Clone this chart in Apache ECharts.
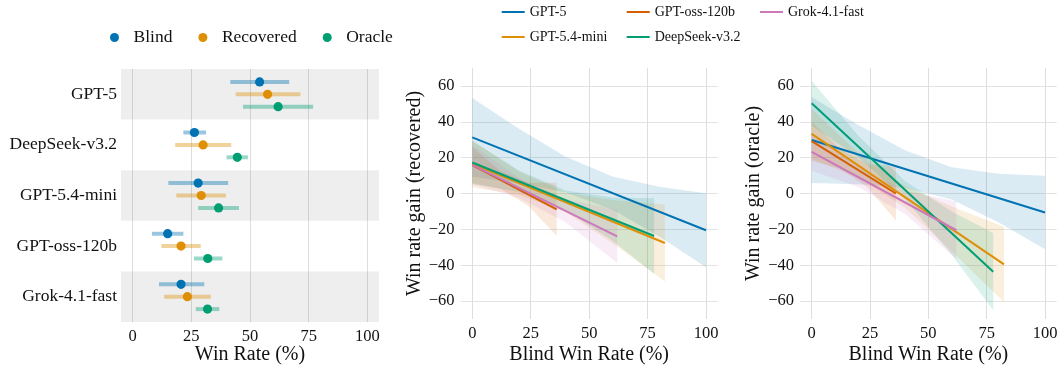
<!DOCTYPE html>
<html><head><meta charset="utf-8">
<script src="https://cdn.jsdelivr.net/npm/echarts@6/dist/echarts.min.js"></script>
<style>html,body{margin:0;padding:0;background:#fff}#c{width:1060px;height:366px}</style>
</head><body><div id="c"></div>
<script>
// ---------- data ----------
const models = ['GPT-5', 'DeepSeek-v3.2', 'GPT-5.4-mini', 'GPT-oss-120b', 'Grok-4.1-fast'];
// [mean, ci low, ci high] in model order
const blind     = [[54.1, 41.6, 66.7], [26.3, 21.6, 31.3], [27.9, 15.2, 40.7], [14.9, 8.2, 21.6], [20.6, 11.2, 30.5]];
const recovered = [[57.5, 43.9, 71.5], [30.0, 18.1, 42.0], [29.2, 18.6, 39.7], [20.6, 12.2, 29.0], [23.3, 13.4, 33.3]];
const oracle    = [[62.0, 47.0, 76.9], [44.6, 40.0, 49.1], [36.6, 27.9, 45.3], [32.0, 26.1, 38.2], [31.9, 26.9, 36.9]];
const winTicks = [0, 25, 50, 75, 100];
const gainTicks = [-60, -40, -20, 0, 20, 40, 60];

// fitted lines: [blind win rate, gain]
const recGPT5 = [[0, 31.3], [100, -20.5]];
const recMini = [[0, 16.5], [82.4, -27.6]];
const recOss  = [[0, 15.8], [36.1, -8.8]];
const recDS   = [[0, 17.3], [77.8, -23.7]];
const recGrok = [[0, 16.0], [62.0, -23.9]];
const oraGPT5 = [[0, 29.8], [100, -10.6]];
const oraMini = [[0, 33.3], [82.4, -39.5]];
const oraOss  = [[0, 29.2], [36.1, 0.0]];
const oraDS   = [[0, 50.3], [77.8, -43.6]];
const oraGrok = [[0, 23.2], [62.0, -20.5]];

// confidence bands: [blind win rate, low, high]
const recBandGPT5 = [[0, 9.3, 53.3], [20, 5.7, 36.1], [40, 0.7, 20.5], [60, -9.1, 9.5], [80, -24.0, 3.8], [100, -41.1, 0.1]];
const recBandMini = [[0, 3.5, 29.5], [20, -0.7, 12.3], [40, -10.4, 0.6], [60, -27.6, -3.6], [82.4, -49.1, -6.1]];
const recBandOss  = [[0, 5.8, 25.8], [12, 2.6, 12.6], [24, -7.0, 6.0], [36.1, -23.6, 6.0]];
const recBandDS   = [[0, 5.3, 29.3], [20, 0.8, 12.8], [40, -9.3, 1.7], [60, -26.3, -2.3], [77.8, -44.7, -2.7]];
const recBandGrok = [[0, 5.0, 27.0], [20, -2.4, 8.6], [40, -16.2, -3.2], [62, -38.7, -9.1]];
const oraBandGPT5 = [[0, 5.9, 53.7], [20, 5.2, 38.2], [40, 3.1, 24.1], [60, -3.4, 14.6], [80, -16.0, 11.0], [100, -31.1, 9.9]];
const oraBandMini = [[0, 19.3, 47.3], [20, 8.6, 22.6], [40, -8.0, 4.0], [60, -32.2, -7.2], [82.4, -60.5, -18.5]];
const oraBandOss  = [[0, 18.2, 40.2], [12, 14.0, 25.0], [24, 3.3, 16.3], [36.1, -15.0, 15.0]];
const oraBandDS   = [[0, 37.8, 62.8], [20, 20.2, 32.2], [40, -3.0, 7.0], [60, -34.1, -10.1], [77.8, -65.1, -22.1]];
const oraBandGrok = [[0, 12.7, 33.7], [20, 3.6, 14.6], [40, -11.5, 1.5], [62, -36.5, -4.5]];

// ---------- styling ----------
const FONT = '"Liberation Serif","Times New Roman",serif';
const TXT = '#111';
const C = {blue: '#0173b2', orange: '#de8f05', green: '#029e73', red: '#d55e00', pink: '#cc78bc'};
const minus = v => (v < 0 ? '\u2212' + Math.abs(v) : String(v));
const LINE_ICON = 'path://M0,0 L23,0 L23,2 L0,2 Z';

function winAxis(gi, name, gap) {
  return {
    type: 'value', gridIndex: gi, min: -5, max: 105,
    axisLine: {show: false, onZero: false},
    axisTick: {show: false, customValues: winTicks},
    axisLabel: {customValues: winTicks, fontFamily: FONT, fontSize: 16.5, color: TXT, margin: 6},
    splitLine: {show: true, lineStyle: {color: '#dedede', width: 1}},
    name: name, nameLocation: 'middle', nameGap: gap, nameMoveOverlap: false,
    nameTextStyle: {fontFamily: FONT, fontSize: 20, color: TXT}
  };
}
function gainAxis(gi, name) {
  return {
    type: 'value', gridIndex: gi, min: -70, max: 70,
    axisLine: {show: false, onZero: false},
    axisTick: {show: false, customValues: gainTicks},
    axisLabel: {customValues: gainTicks, formatter: minus, fontFamily: FONT, fontSize: 16.5, color: TXT, margin: 6},
    splitLine: {show: true, lineStyle: {color: '#e3e3e3', width: 1}},
    name: name, nameLocation: 'middle', nameGap: 36, nameRotate: 90, nameMoveOverlap: false,
    nameTextStyle: {fontFamily: FONT, fontSize: 20, color: TXT}
  };
}

function dotSeries(name, vals, color, off) {
  return {
    type: 'custom', name: name, xAxisIndex: 0, yAxisIndex: 0, z: 3,
    itemStyle: {color: color},
    data: vals.map((v, i) => [v[0], v[1], v[2], i]),
    encode: {x: [0, 1, 2], y: 3},
    renderItem(params, api) {
      const i = api.value(3);
      const c = api.coord([api.value(0), i]);
      const lo = api.coord([api.value(1), i]);
      const hi = api.coord([api.value(2), i]);
      const dy = off * api.size([0, 1])[1];
      return {type: 'group', children: [
        {type: 'line', shape: {x1: lo[0], y1: c[1] + dy, x2: hi[0], y2: c[1] + dy},
         style: {stroke: color, lineWidth: 4, opacity: 0.4}},
        {type: 'circle', shape: {cx: c[0], cy: c[1] + dy, r: 4.6}, style: {fill: color}}
      ]};
    }
  };
}
function bandSeries(band, color, gi) {
  return {
    type: 'custom', xAxisIndex: gi, yAxisIndex: gi, silent: true, z: 1,
    data: [[band[0][0], band[0][1]]],
    renderItem(params, api) {
      const top = band.map(p => api.coord([p[0], p[2]]));
      const bot = band.slice().reverse().map(p => api.coord([p[0], p[1]]));
      return {type: 'polygon', shape: {points: top.concat(bot)}, style: {fill: color, opacity: 0.14}};
    }
  };
}
function fitSeries(name, pts, color, gi) {
  return {type: 'line', name: name, xAxisIndex: gi, yAxisIndex: gi, data: pts, symbol: 'none', z: 2,
    color: color, lineStyle: {width: 2, color: color}, silent: true, animation: false};
}

const series = [
  {
    type: 'custom', xAxisIndex: 0, yAxisIndex: 0, silent: true, z: 0,
    data: [[0, 0], [0, 2], [0, 4]], encode: {x: 0, y: 1},
    renderItem(params, api) {
      const c = api.coord([0, api.value(1)]);
      const h = api.size([0, 1])[1];
      const cs = params.coordSys;
      return {type: 'rect', shape: {x: cs.x, y: c[1] - h / 2, width: cs.width, height: h},
        style: {fill: 'rgba(0,0,0,0.065)'}};
    }
  },
  dotSeries('Blind', blind, C.blue, -0.245),
  dotSeries('Recovered', recovered, C.orange, 0),
  dotSeries('Oracle', oracle, C.green, 0.245),
  bandSeries(recBandGPT5, C.blue, 1), bandSeries(recBandMini, C.orange, 1), bandSeries(recBandOss, C.red, 1),
  bandSeries(recBandDS, C.green, 1), bandSeries(recBandGrok, C.pink, 1),
  fitSeries('GPT-5', recGPT5, C.blue, 1), fitSeries('GPT-5.4-mini', recMini, C.orange, 1),
  fitSeries('GPT-oss-120b', recOss, C.red, 1), fitSeries('DeepSeek-v3.2', recDS, C.green, 1),
  fitSeries('Grok-4.1-fast', recGrok, C.pink, 1),
  bandSeries(oraBandGPT5, C.blue, 2), bandSeries(oraBandMini, C.orange, 2), bandSeries(oraBandOss, C.red, 2),
  bandSeries(oraBandDS, C.green, 2), bandSeries(oraBandGrok, C.pink, 2),
  fitSeries('GPT-5', oraGPT5, C.blue, 2), fitSeries('GPT-5.4-mini', oraMini, C.orange, 2),
  fitSeries('GPT-oss-120b', oraOss, C.red, 2), fitSeries('DeepSeek-v3.2', oraDS, C.green, 2),
  fitSeries('Grok-4.1-fast', oraGrok, C.pink, 2)
];

function lineLegend(name, left, top) {
  return {data: [{name: name, icon: LINE_ICON}], left: left, top: top, padding: 0,
    itemWidth: 23, itemHeight: 14, selectedMode: false,
    textStyle: {fontFamily: FONT, fontSize: 14, color: TXT}};
}

const option = {
  animation: false,
  backgroundColor: '#fff',
  grid: [
    {left: 121, top: 69, width: 258, height: 253, outerBoundsMode: 'none', containLabel: false},
    {left: 460.6, top: 68, width: 257.1, height: 251, outerBoundsMode: 'none', containLabel: false},
    {left: 800, top: 68, width: 256.7, height: 251, outerBoundsMode: 'none', containLabel: false}
  ],
  xAxis: [winAxis(0, 'Win Rate (%)', 23), winAxis(1, 'Blind Win Rate (%)', 26), winAxis(2, 'Blind Win Rate (%)', 26)],
  yAxis: [
    {type: 'category', gridIndex: 0, data: models, inverse: true,
     axisLine: {show: false}, axisTick: {show: false}, splitLine: {show: false},
     axisLabel: {fontFamily: FONT, fontSize: 17.5, color: TXT, margin: 4}},
    gainAxis(1, 'Win rate gain (recovered)'),
    gainAxis(2, 'Win rate gain (oracle)')
  ],
  legend: [
    {data: [{name: 'Blind', icon: 'circle'}, {name: 'Recovered', icon: 'circle'}, {name: 'Oracle', icon: 'circle'}],
     left: 110, top: 28.5, padding: 0, itemWidth: 28, itemHeight: 9, itemGap: 26, selectedMode: false,
     textStyle: {fontFamily: FONT, fontSize: 17.5, color: TXT}},
    lineLegend('GPT-5', 501.7, 5), lineLegend('GPT-oss-120b', 626.7, 5), lineLegend('Grok-4.1-fast', 760, 5),
    lineLegend('GPT-5.4-mini', 501.7, 30), lineLegend('DeepSeek-v3.2', 626.7, 30)
  ],
  series: series
};
const chart = echarts.init(document.getElementById('c'), null, {renderer: 'canvas'});
chart.setOption(option);
</script></body></html>
